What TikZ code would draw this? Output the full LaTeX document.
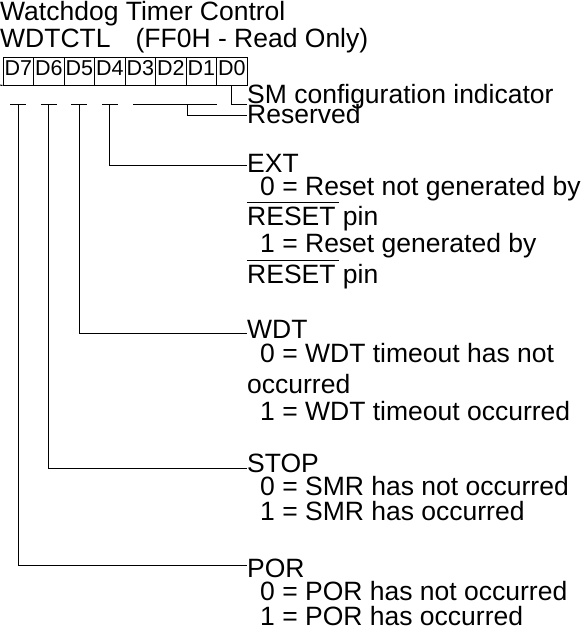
\documentclass[tikz,border=0pt]{standalone}
\usepackage{fontspec}
\setmainfont{Liberation Sans}
\newcommand{\myovl}[1]{\setbox0\hbox{#1}\rlap{\rule[22.5pt]{\dimexpr\wd0+3pt\relax}{1pt}}\box0\relax}
\tikzset{
  lbl/.style={anchor=base west, inner sep=0pt, font=\fontsize{26.5}{26.5}\selectfont},
  cellbox/.style={draw, line width=1pt, minimum width=30.5pt, inner sep=0pt,
    text height=18pt, text depth=10pt, font=\fontsize{21.5}{21.5}\selectfont},
  wire/.style={line width=1pt}
}
\begin{document}
\begin{tikzpicture}[x=1pt,y=-1pt]
\useasboundingbox (0,0) rectangle (585,630);
% title
\node[lbl] (title) at (0,20) {Watchdog Timer Control};
\node[lbl] (reg) at (0,47) {WDTCTL\hspace{25pt}(FF0H - Read Only)};
% register cells
\foreach \i in {0,...,7} {
  \pgfmathtruncatemacro\b{7-\i}
  \node[cellbox] (d\b) at ({3+30.5*\i+15.25},71) {D\b};
}
\draw[wire] (0,85) -- (d7.south west);
% helper row
\coordinate (row) at (0,104);
\coordinate (t7) at (d7.south |- row);
\coordinate (t6) at (d6.south |- row);
\coordinate (t5) at (d5.south |- row);
\coordinate (t4) at (d4.south |- row);
\coordinate (r1) at (133,104);
\coordinate (r2) at (217,104);
\coordinate (rv) at (187,104);
% label ends
\coordinate (smend) at (247,104);
\coordinate (resend) at (247,115.5);
\coordinate (extend) at (247,165);
\coordinate (wdtend) at (247,333);
\coordinate (stopend) at (247,468);
\coordinate (porend) at (247,565);
% texts
\node[lbl] (sm) at (247,103) {SM configuration indicator};
\node[lbl] (res) at (247,123) {Reserved};
\node[lbl] (ext) at (247,172) {EXT};
\node[lbl] (ext0) at (260,195) {0 = Reset not generated by};
\node[lbl] (ext0b) at (247,225) {\myovl{RESET} pin};
\node[lbl] (ext1) at (260,252) {1 = Reset generated by};
\node[lbl] (ext1b) at (247,283) {\myovl{RESET} pin};
\node[lbl] (wdt) at (247,338) {WDT};
\node[lbl] (wdt0) at (260,362) {0 = WDT timeout has not};
\node[lbl] (wdt0b) at (247,393) {occurred};
\node[lbl] (wdt1) at (260,420) {1 = WDT timeout occurred};
\node[lbl] (stop) at (247,472) {STOP};
\node[lbl] (stop0) at (260,495) {0 = SMR has not occurred};
\node[lbl] (stop1) at (260,520) {1 = SMR has occurred};
\node[lbl] (por) at (247,577) {POR};
\node[lbl] (por0) at (260,600) {0 = POR has not occurred};
\node[lbl] (por1) at (260,625) {1 = POR has occurred};
% connectors
\foreach \t in {t7,t6,t5,t4} {
  \draw[wire] ([xshift=-8pt]\t) -- ([xshift=8pt]\t);
}
\draw[wire] (t7) |- (porend);
\draw[wire] (t6) |- (stopend);
\draw[wire] (t5) |- (wdtend);
\draw[wire] (t4) |- (extend);
\draw[wire] (r1) -- (r2);
\draw[wire] (rv) |- (resend);
\draw[wire] (d0.south) |- (smend);
\end{tikzpicture}
\end{document}
